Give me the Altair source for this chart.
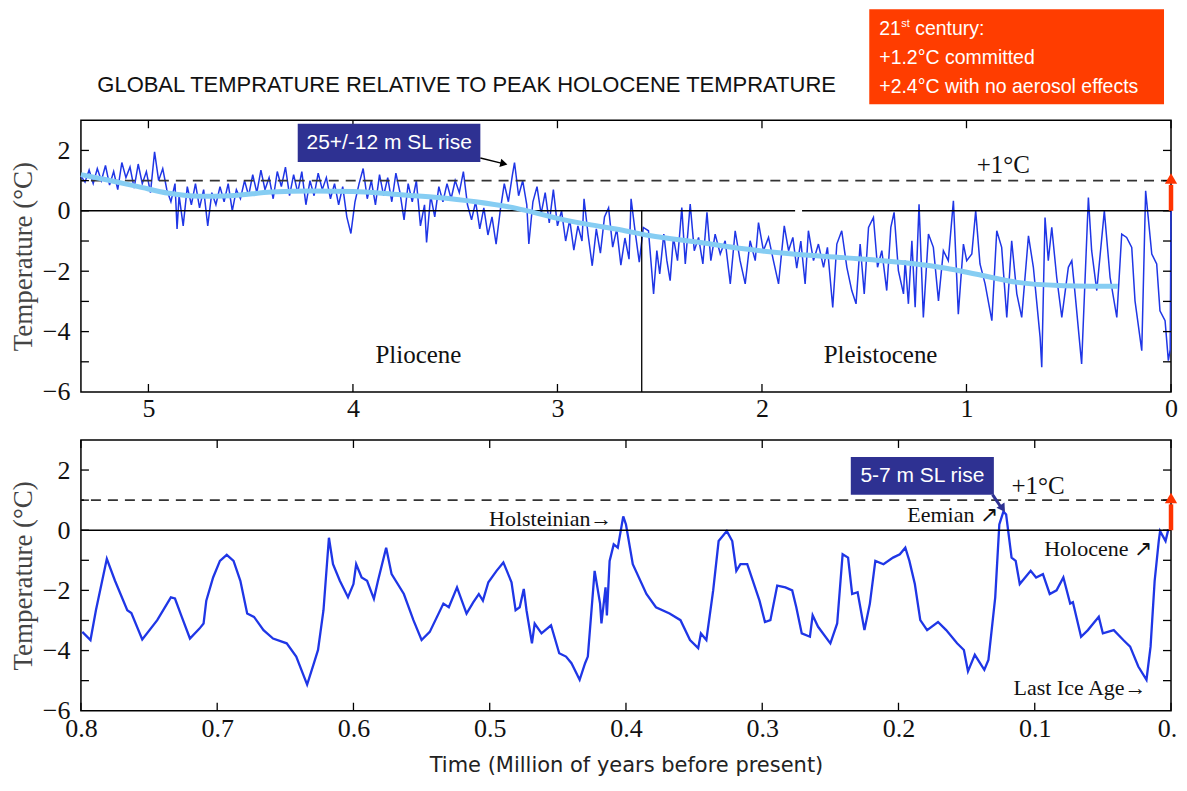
import altair as alt
import pandas as pd

# ---------------- data ----------------
# Upper panel: last 5.33 million years (age in Ma, temperature in °C)
top_age = [5.33, 5.31, 5.29, 5.27, 5.25, 5.23, 5.21, 5.19, 5.17, 5.15, 5.13, 5.11, 5.09, 5.07, 5.05, 5.03, 5.01, 4.99, 4.97, 4.95, 4.93, 4.91,
           4.89, 4.87, 4.86, 4.85, 4.83, 4.81, 4.79,
           4.77, 4.75, 4.73, 4.71, 4.69, 4.67, 4.65, 4.63, 4.61, 4.59, 4.57, 4.55, 4.53,
           4.51, 4.49, 4.47, 4.45, 4.43, 4.41, 4.39, 4.37, 4.35, 4.33, 4.31, 4.29, 4.27, 4.25, 4.23, 4.21, 4.19, 4.17, 4.15, 4.13, 4.11,
           4.09, 4.07, 4.05, 4.03, 4.01, 3.99, 3.97,
           3.95, 3.93, 3.91, 3.89, 3.87, 3.85, 3.83, 3.81, 3.79, 3.77, 3.75, 3.73, 3.71, 3.69, 3.67, 3.65, 3.64, 3.62, 3.60, 3.58, 3.56, 3.54, 3.52, 3.50, 3.48, 3.46,
           3.44, 3.42, 3.40, 3.38, 3.36, 3.34, 3.32, 3.30, 3.28,
           3.26, 3.24, 3.22, 3.21, 3.19, 3.17,
           3.15, 3.14, 3.12, 3.10, 3.08, 3.06, 3.04, 3.02,
           3.00, 2.98, 2.96, 2.94, 2.92, 2.90, 2.88, 2.87, 2.85, 2.83, 2.81, 2.79, 2.77, 2.75, 2.73, 2.71, 2.69, 2.67, 2.65, 2.64, 2.62, 2.60,
           2.58, 2.555, 2.53, 2.514, 2.50, 2.48, 2.465, 2.449, 2.433, 2.413, 2.392, 2.375, 2.351, 2.331, 2.31, 2.289, 2.269, 2.25, 2.229, 2.204,
           2.18, 2.155, 2.131, 2.107, 2.082, 2.058, 2.033, 2.017, 1.993, 1.968, 1.944, 1.919, 1.891, 1.87, 1.849, 1.83, 1.81, 1.789, 1.773, 1.748,
           1.724, 1.699, 1.68, 1.654, 1.634, 1.61, 1.585, 1.561, 1.54, 1.52, 1.50, 1.479, 1.455, 1.435, 1.414, 1.39, 1.37, 1.354, 1.333, 1.308,
           1.300, 1.284, 1.267, 1.251, 1.232, 1.211, 1.186, 1.162, 1.137, 1.113, 1.089, 1.064, 1.040, 1.015, 0.999, 0.974, 0.955, 0.934, 0.909,
           0.876, 0.852, 0.828, 0.803, 0.779, 0.754, 0.730, 0.697, 0.673, 0.640, 0.632, 0.616, 0.600, 0.583, 0.559, 0.534, 0.502, 0.485, 0.469,
           0.437, 0.404, 0.388, 0.363, 0.326, 0.298, 0.265, 0.241, 0.217, 0.192, 0.176, 0.143, 0.124, 0.094, 0.070, 0.054, 0.029, 0.013, 0.004, 0.0]
top_temp = [1.15, 0.95, 1.35, 0.9, 1.4, 1.0, 1.5, 0.85, 1.3, 0.7, 1.6, 1.1, 1.45, 0.75, 1.55, 0.9, 1.3, 0.6, 1.95, 1.0, 1.4, 0.7,
            0.3, 0.9, -0.6, 0.5, -0.5, 0.8, 0.2,
            0.9, 0.1, 0.7, -0.5, 0.6, 0.2, 0.8, 0.3, 0.9, 0.0, 0.7, 0.4, 1.0,
            0.5, 1.2, 0.6, 1.35, 0.7, 1.1, 0.4, 1.3, 0.8, 1.45, 0.5, 1.2, 0.6, 1.3, 0.2, 1.0, 0.5, 1.25, 0.7, 1.1, 0.4,
            0.9, 0.2, 0.8, -0.2, -0.75, 0.3, 0.9,
            1.4, 0.4, 1.0, 0.2, 1.2, 0.5, 1.1, 0.3, 1.25, 0.6, -0.3, 0.9, 0.3, 1.0, -0.5, 0.2, -1.05, 0.5, -0.2, 0.8, 0.3, 0.9, 0.4, 1.0, 0.6, 1.3,
            0.2, -0.3, 0.3, -0.6, 0.1, -0.8, -0.2, -1.1, 0.0,
            0.9, 0.3, 1.2, 1.6, 0.5, 1.0,
            0.2, -1.1, 0.3, 0.8, -0.1, 0.6, -0.4, 0.7,
            -0.5, 0.0, -1.0, -0.3, -1.3, -0.5, -1.0, 0.4, -0.8, -1.82, -0.6, -1.4, -0.2, 0.1, -1.2, -0.6, -1.8, -0.9, -1.6, 0.4, -0.7, -1.7,
            -0.55, -0.66, -2.75, -1.32, -2.09, -0.77, -1.65, -2.31, -0.88, -1.65, 0.11, -1.76, 0.22, -1.32, -0.88, -1.76, -0.05, -1.65, -0.77, -1.43,
            -0.99, -2.42, -0.66, -1.65, -2.42, -0.99, -1.65, -0.39, -1.32, -0.88, -1.65, -2.42, -0.5, -1.32, -0.88, -1.9, -1.0, -2.42, -0.66, -1.65,
            -1.1, -1.87, -1.21, -3.2, -1.1, -0.66, -1.87, -2.64, -3.08, -1.1, -2.75, -0.55, -0.22, -1.87, -1.32, -2.64, -0.55, -0.05, -1.98, -2.75,
            -1.65, -3.08, -0.99, -3.19, 0.22, -3.53, -0.77, -1.21, -2.98, -1.32, -1.65, 0.33, -3.42, -1.10, -1.65, -1.43, 0.0, -1.76, -2.42,
            -3.64, -0.66, -1.21, -3.53, -0.99, -2.75, -3.53, -0.83, -1.87, -4.19, -5.18, -0.22, -1.65, -0.55, -2.2, -3.53, -1.87, -1.65, -2.75,
            -5.07, 0.44, -1.32, -2.64, 0.0, -2.2, -3.53, -0.77, -0.88, -1.21, -2.98, -4.63, 0.66, -1.43, -1.76, -3.31, -3.64, -4.96, -4.6, 0.0]

# Upper panel: smoothed (light blue) curve
trend_age = [5.33, 5.2, 5.05, 4.9, 4.75, 4.6, 4.4, 4.2, 4.0, 3.8, 3.6, 3.4, 3.2, 3.0, 2.85, 2.7, 2.55, 2.3, 2.1, 1.85, 1.6, 1.3, 1.1, 0.95, 0.75, 0.55, 0.26]
trend_temp = [1.2, 1.02, 0.8, 0.58, 0.48, 0.5, 0.62, 0.66, 0.64, 0.55, 0.45, 0.3, 0.08, -0.25, -0.45, -0.62, -0.82, -1.05, -1.25, -1.43, -1.55, -1.72, -1.9, -2.1, -2.37, -2.47, -2.5]

# Lower panel: last 800 thousand years
bot_age = [0.799, 0.793, 0.789, 0.781, 0.775, 0.766, 0.763, 0.755, 0.744, 0.734, 0.731, 0.726, 0.72, 0.713, 0.710, 0.708, 0.703, 0.698,
           0.693, 0.688, 0.683, 0.678, 0.673, 0.666, 0.659, 0.649, 0.642, 0.634, 0.629, 0.626, 0.622, 0.618, 0.615, 0.610, 0.604, 0.600,
           0.598, 0.594, 0.590, 0.585, 0.582, 0.576, 0.572, 0.563, 0.556, 0.550, 0.544, 0.534, 0.530, 0.524, 0.517, 0.512, 0.508, 0.505,
           0.501, 0.495, 0.490, 0.484, 0.481, 0.478, 0.475, 0.473, 0.469, 0.467, 0.462, 0.455, 0.449, 0.444, 0.440, 0.434, 0.430, 0.428,
           0.423, 0.419, 0.418, 0.415, 0.414, 0.412, 0.409, 0.406, 0.402, 0.400, 0.395, 0.385, 0.378, 0.368, 0.360, 0.353, 0.347, 0.345,
           0.341, 0.336, 0.332, 0.326, 0.322, 0.319, 0.316, 0.311, 0.302, 0.298, 0.294, 0.289, 0.283, 0.278, 0.275, 0.271, 0.265, 0.263,
           0.259, 0.250, 0.245, 0.241, 0.237, 0.234, 0.230, 0.225, 0.221, 0.217, 0.211, 0.204, 0.199, 0.195, 0.192, 0.188, 0.184, 0.179,
           0.171, 0.165, 0.157, 0.152, 0.149, 0.144, 0.137, 0.134, 0.129, 0.126, 0.123, 0.121, 0.117, 0.114, 0.111, 0.103, 0.099, 0.094,
           0.089, 0.084, 0.079, 0.074, 0.072, 0.066, 0.061, 0.053, 0.050, 0.042, 0.035, 0.030, 0.024, 0.018, 0.015, 0.012, 0.009, 0.008,
           0.004, 0.002]
bot_temp = [-3.38, -3.65, -2.66, -0.95, -1.68, -2.66, -2.75, -3.63, -2.99, -2.23, -2.27, -2.88, -3.6, -3.27, -3.1, -2.34, -1.57, -1.02,
            -0.82, -1.02, -1.68, -2.77, -2.88, -3.32, -3.6, -3.76, -4.2, -5.13, -4.42, -3.98, -2.66, -0.25, -1.13, -1.68, -2.23, -1.79,
            -1.13, -1.57, -1.68, -2.28, -1.68, -0.58, -1.46, -2.12, -2.99, -3.65, -3.38, -2.44, -2.56, -1.9, -2.77, -2.39, -2.12, -2.34,
            -1.73, -1.35, -1.07, -1.73, -2.66, -2.56, -1.95, -2.66, -3.76, -3.1, -3.43, -3.16, -4.09, -4.2, -4.42, -4.97, -4.42, -4.2,
            -1.35, -2.44, -3.1, -1.9, -2.83, -1.02, -0.47, -0.58, 0.46, 0.19, -1.13, -2.12, -2.56, -2.77, -2.99, -3.65, -3.92, -3.43,
            -3.65, -2.0, -0.36, -0.03, -0.36, -1.35, -1.13, -1.13, -2.34, -3.05, -2.99, -1.84, -1.9, -2.0, -2.56, -3.43, -3.54, -2.83,
            -3.21, -3.76, -3.1, -0.8, -0.91, -2.12, -2.06, -3.32, -2.44, -1.02, -1.13, -0.91, -0.8, -0.58, -1.02, -1.79, -2.99, -3.32,
            -3.05, -3.32, -3.76, -3.98, -4.69, -4.14, -4.64, -4.31, -2.23, 0.19, 0.62, 0.52, -0.91, -1.02, -1.79, -1.35, -1.57, -1.46,
            -2.12, -2.0, -1.57, -2.44, -2.39, -3.54, -3.32, -2.88, -3.43, -3.32, -3.65, -3.87, -4.53, -4.97, -3.87, -1.68, -0.36, -0.03,
            -0.36, 0.02]

top_xticks = [0, 1, 2, 3, 4, 5]
bot_xticks = [0, 0.1, 0.2, 0.3, 0.4, 0.5, 0.6, 0.7, 0.8]
y_labels = [-6, -4, -2, 0, 2]
y_minor = [-5, -4, -3, -2, -1, 0, 1, 2]
epoch_boundary = 2.588

# ---------------- styling ----------------
W, H1, H2 = 1091, 272, 271
SERIF = "Liberation Serif"
SANS = "Liberation Sans"
NAVY = "#2E3192"
ORANGE = "#FF3D00"
RED_ARROW = "#FF3300"
BLUE = "#1F36E6"
TREND = "#86CDF3"

top_x = alt.Scale(domain=[0, 5.33], reverse=True, nice=False, zero=False)
bot_x = alt.Scale(domain=[0, 0.8], reverse=True, nice=False, zero=False)
y_sc = alt.Scale(domain=[-6, 3], nice=False, zero=False)

y_axis = alt.Axis(values=y_labels, format="d", ticks=False, domain=False, grid=False,
                  labelFont=SERIF, labelFontSize=26, labelColor="#111", labelPadding=11,
                  title="Temperature (°C)", titleFont=SERIF, titleFontSize=27,
                  titleFontWeight="normal", titleColor="#444", titlePadding=5)
top_x_axis = alt.Axis(values=top_xticks, format="d", ticks=False, domain=False, grid=False,
                      labelFont=SERIF, labelFontSize=26, labelColor="#111", labelPadding=4,
                      labelFlush=False, labelOverlap=False, title=None)
bot_x_axis = alt.Axis(values=bot_xticks, ticks=False, domain=False, grid=False,
                      labelExpr="datum.value == 0 ? '0.' : format(datum.value, '.1f')",
                      labelOffset={"condition": {"test": "datum.value == 0", "value": -4}, "value": 0},
                      labelFont=SERIF, labelFontSize=26, labelColor="#111", labelPadding=5,
                      labelFlush=False, labelOverlap=False,
                      title="Time (Million of years before present)", titleFont="DejaVu Sans",
                      titleFontSize=21, titleFontWeight="normal", titleColor="#222", titlePadding=13)

AXES = {"top": top_x_axis, "bot": bot_x_axis}
SCALES = {"top": top_x, "bot": bot_x}


def X(p):
    return alt.X("x:Q", scale=SCALES[p], axis=AXES[p])


def Y():
    return alt.Y("y:Q", scale=y_sc, axis=y_axis)


def one():
    return pd.DataFrame({"k": [0]})


def frame_ticks(p, xt, H):
    yt = pd.DataFrame({"y": y_minor})
    xd = pd.DataFrame({"x": xt})
    st = dict(color="black", strokeWidth=1.3)
    return [
        alt.Chart(yt).mark_rule(**st).encode(y=Y(), x=alt.value(0), x2=alt.value(8)),
        alt.Chart(yt).mark_rule(**st).encode(y=Y(), x=alt.value(W - 8), x2=alt.value(W)),
        alt.Chart(xd).mark_rule(**st).encode(x=X(p), y=alt.value(H - 8), y2=alt.value(H)),
        alt.Chart(xd).mark_rule(**st).encode(x=X(p), y=alt.value(0), y2=alt.value(8)),
    ]


def red_arrow(p):
    shaft = alt.Chart(pd.DataFrame({"x": [0], "y": [0], "y2": [0.86]})).mark_rule(
        color=RED_ARROW, strokeWidth=4.5).encode(x=X(p), y=Y(), y2="y2:Q")
    head = alt.Chart(pd.DataFrame({"x": [0], "y": [1.07]})).mark_point(
        shape="triangle-up", filled=True, size=150, color=RED_ARROW, opacity=1).encode(x=X(p), y=Y())
    return [shaft, head]


def text_at(p, x, y, t, size=25, align="center", font=SERIF, color="#111"):
    return alt.Chart(pd.DataFrame({"x": [x], "y": [y], "t": [t]})).mark_text(
        font=font, fontSize=size, align=align, baseline="middle", color=color).encode(
        x=X(p), y=Y(), text="t:N")


# ---------------- upper panel ----------------
raw_top = alt.Chart(pd.DataFrame({"x": top_age, "y": top_temp, "i": list(range(len(top_age)))})).mark_line(
    color=BLUE, strokeWidth=1.5).encode(x=X("top"), y=Y(), order="i:Q")
zero_top = alt.Chart(pd.DataFrame({"x": [5.33, 1.804], "x2": [1.838, 0.0], "y": [0, 0]})).mark_rule(
    color="black", strokeWidth=1.6).encode(x=X("top"), x2="x2:Q", y=Y())
dash_top = alt.Chart(pd.DataFrame({"y": [1]})).mark_rule(
    color="#333", strokeWidth=1.6, strokeDash=[10, 7]).encode(y=Y())
boundary = alt.Chart(pd.DataFrame({"x": [epoch_boundary], "y": [0], "y2": [-6]})).mark_rule(
    color="black", strokeWidth=1.3).encode(x=X("top"), y=Y(), y2="y2:Q")
trend = alt.Chart(pd.DataFrame({"x": trend_age, "y": trend_temp})).mark_line(
    color=TREND, strokeWidth=5, interpolate="monotone").encode(x=X("top"), y=Y())

box_top = alt.Chart(pd.DataFrame({"x": [4.27], "x2": [3.377], "y": [2.88], "y2": [1.62]})).mark_rect(
    color=NAVY).encode(x=X("top"), x2="x2:Q", y=Y(), y2="y2:Q")
box_top_txt = text_at("top", 3.823, 2.25, "25+/-12 m SL rise", size=21, font=SANS, color="white")
arr_top = alt.Chart(pd.DataFrame({"x": [3.377], "x2": [3.27], "y": [1.75], "y2": [1.57]})).mark_rule(
    color="black", strokeWidth=1.4).encode(x=X("top"), x2="x2:Q", y=Y(), y2="y2:Q")
arr_top_head = alt.Chart(pd.DataFrame({"x": [3.262], "y": [1.56]})).mark_point(
    shape="triangle-right", angle=13, filled=True, size=70, color="black", opacity=1).encode(x=X("top"), y=Y())

# heading and 21st-century box (placed above the upper plot)
head_title = alt.Chart(one()).mark_text(
    text="GLOBAL TEMPRATURE RELATIVE TO PEAK HOLOCENE TEMPRATURE", font=SANS, fontSize=22,
    align="center", baseline="middle", color="#111").encode(x=alt.value(386), y=alt.value(-35))
orange_box = alt.Chart(one()).mark_rect(color=ORANGE).encode(
    x=alt.value(789), x2=alt.value(1084), y=alt.value(-111), y2=alt.value(-16))
ob_style = dict(font=SANS, color="white", align="left", baseline="middle")
ob_21 = alt.Chart(one()).mark_text(text="21", fontSize=19.5, **ob_style).encode(x=alt.value(799), y=alt.value(-91))
ob_st = alt.Chart(one()).mark_text(text="st", fontSize=11, **ob_style).encode(x=alt.value(821), y=alt.value(-96))
ob_cent = alt.Chart(one()).mark_text(text="century:", fontSize=19.5, **ob_style).encode(x=alt.value(835), y=alt.value(-91))
ob_l2 = alt.Chart(one()).mark_text(text="+1.2°C committed", fontSize=19.5, **ob_style).encode(x=alt.value(799), y=alt.value(-62))
ob_l3 = alt.Chart(one()).mark_text(text="+2.4°C with no aerosol effects", fontSize=19.5, **ob_style).encode(x=alt.value(799), y=alt.value(-33))

top = alt.layer(
    raw_top, zero_top, dash_top, boundary, trend,
    *frame_ticks("top", top_xticks, H1),
    text_at("top", 3.68, -4.79, "Pliocene"),
    text_at("top", 1.42, -4.79, "Pleistocene"),
    text_at("top", 0.82, 1.52, "+1°C"),
    box_top, box_top_txt, arr_top, arr_top_head,
    *red_arrow("top"),
    head_title, orange_box, ob_21, ob_st, ob_cent, ob_l2, ob_l3,
).properties(width=W, height=H1)

# ---------------- lower panel ----------------
raw_bot = alt.Chart(pd.DataFrame({"x": bot_age, "y": bot_temp, "i": list(range(len(bot_age)))})).mark_line(
    color=BLUE, strokeWidth=2.3).encode(x=X("bot"), y=Y(), order="i:Q")
zero_bot = alt.Chart(pd.DataFrame({"y": [0]})).mark_rule(color="black", strokeWidth=1.6).encode(y=Y())
dash_bot = alt.Chart(pd.DataFrame({"y": [1]})).mark_rule(
    color="#333", strokeWidth=1.6, strokeDash=[10, 7]).encode(y=Y())

box_bot = alt.Chart(pd.DataFrame({"x": [0.235], "x2": [0.130], "y": [2.43], "y2": [1.18]})).mark_rect(
    color=NAVY).encode(x=X("bot"), x2="x2:Q", y=Y(), y2="y2:Q")
box_bot_txt = text_at("bot", 0.1825, 1.80, "5-7 m SL rise", size=21, font=SANS, color="white")
arr_bot = alt.Chart(pd.DataFrame({"x": [0.131], "x2": [0.125], "y": [1.18], "y2": [0.78]})).mark_rule(
    color=NAVY, strokeWidth=3).encode(x=X("bot"), x2="x2:Q", y=Y(), y2="y2:Q")
arr_bot_head = alt.Chart(pd.DataFrame({"x": [0.1235], "y": [0.72]})).mark_point(
    shape="triangle-right", angle=57, filled=True, size=90, color=NAVY, opacity=1).encode(x=X("bot"), y=Y())

bottom = alt.layer(
    raw_bot, zero_bot, dash_bot,
    *frame_ticks("bot", bot_xticks, H2),
    text_at("bot", 0.0976, 1.48, "+1°C"),
    text_at("bot", 0.410, 0.36, "Holsteinian→", size=22, align="right"),
    text_at("bot", 0.127, 0.52, "Eemian ↗", size=22, align="right"),
    text_at("bot", 0.014, -0.62, "Holocene ↗", size=22, align="right"),
    text_at("bot", 0.018, -5.23, "Last Ice Age→", size=22, align="right"),
    box_bot, box_bot_txt, arr_bot, arr_bot_head,
    *red_arrow("bot"),
).properties(width=W, height=H2)

chart = alt.vconcat(top, bottom, spacing=48, bounds="flush").properties(
    padding={"left": 0, "top": 0, "right": 0, "bottom": 0},
    background="white",
).configure_view(stroke="black", strokeWidth=1.5)

chart.save("out.html", embed_options={"renderer": "svg", "actions": False})
